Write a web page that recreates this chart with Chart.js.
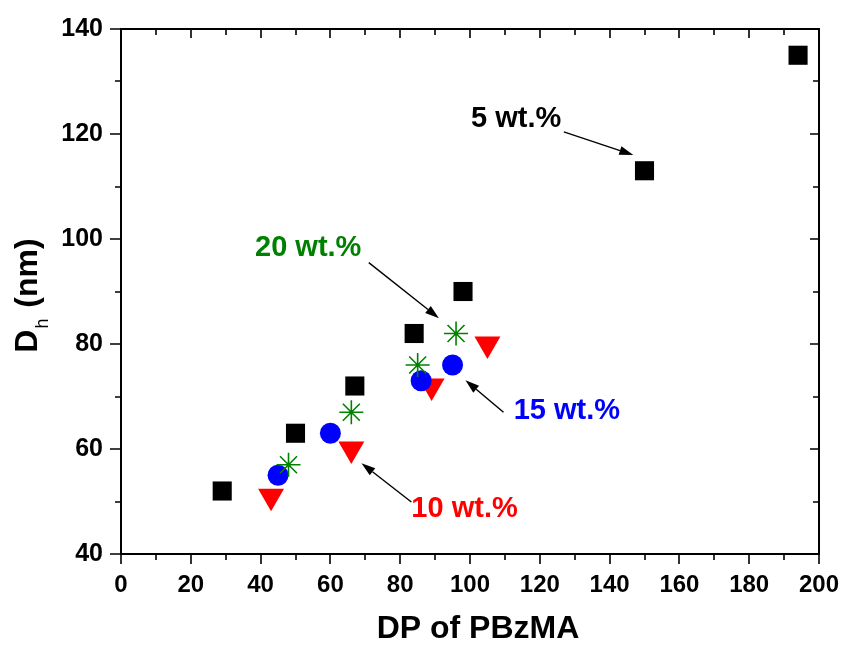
<!DOCTYPE html>
<html>
<head>
<meta charset="utf-8">
<title>Dh vs DP of PBzMA</title>
<script src="https://cdn.jsdelivr.net/npm/chart.js@4.4.1/dist/chart.umd.min.js"></script>
<style>
    html, body { margin: 0; padding: 0; background: #fff; }
    #wrap { width: 843px; height: 646px; }
</style>
</head>
<body>
<div id="wrap"><canvas id="chart" width="843" height="646"></canvas></div>
<script>
/* =====================================
   Data
===================================== */
const dp5  = [29, 50, 67, 84, 98, 150, 194];
const dh5  = [52, 63, 72, 82, 90, 113, 135];

const dp10 = [43, 66, 89, 105];
const dh10 = [51, 60, 72, 80];

const dp15 = [45, 60, 86, 95];
const dh15 = [55, 63, 73, 76];

const dp20 = [48, 66, 85, 96];
const dh20 = [57, 67, 76, 82];

const xLimits = [0, 200];
const yLimits = [40, 140];
const tickStep = 20;

// labels + arrows, in data units: [text, colour, textX, textY, tailX, tailY, tipX, tipY]
const notes = [
    ["5 wt.%",  "#000000", 100.3, 122.9, 126.9, 120.4, 146.8, 116.0],
    ["20 wt.%", "#008000",  38.4,  98.3,  71.0,  95.5,  91.1,  84.9],
    ["15 wt.%", "#0000ff", 112.5,  67.2, 109.6,  67.0,  98.7,  73.1],
    ["10 wt.%", "#ff0000",  83.2,  48.6,  83.2,  49.9,  68.9,  57.3]
];

const FONT = "'Liberation Sans', Arial, Helvetica, sans-serif";

function toPoints(xs, ys) {
    return xs.map((x, i) => ({ x: x, y: ys[i] }));
}

// keep the plot box where the figure has it
function noOverflow(scale) {
    scale.paddingTop = 0;
    scale.paddingBottom = 0;
    scale.paddingLeft = 0;
    scale.paddingRight = 0;
}


/* =====================================
   Frame, ticks, titles and notes
===================================== */
const framePlugin = {
    id: "frame",
    afterDraw(chart) {
        const ctx = chart.ctx;
        const a = chart.chartArea;
        const xs = chart.scales.x;
        const ys = chart.scales.y;

        ctx.save();
        ctx.strokeStyle = "#000";
        ctx.lineWidth = 2;
        ctx.strokeRect(a.left, a.top, a.right - a.left, a.bottom - a.top);

        ctx.lineWidth = 1.6;
        ctx.beginPath();

        // x ticks (major from scale, minor half way)
        let xt = xs.ticks.map(t => t.value);
        for (let i = 0; i < xt.length; i++) {
            let px = Math.round(xs.getPixelForValue(xt[i]));
            ctx.moveTo(px, a.bottom); ctx.lineTo(px, a.bottom + 10);
            ctx.moveTo(px, a.top);    ctx.lineTo(px, a.top + 9);
            if (i < xt.length - 1) {
                let mx = Math.round(xs.getPixelForValue((xt[i] + xt[i + 1]) / 2));
                ctx.moveTo(mx, a.bottom); ctx.lineTo(mx, a.bottom + 6);
                ctx.moveTo(mx, a.top);    ctx.lineTo(mx, a.top + 6);
            }
        }

        // y ticks
        let yt = ys.ticks.map(t => t.value);
        for (let i = 0; i < yt.length; i++) {
            let py = Math.round(ys.getPixelForValue(yt[i]));
            ctx.moveTo(a.left, py);  ctx.lineTo(a.left - 11, py);
            ctx.moveTo(a.right, py); ctx.lineTo(a.right - 9, py);
            if (i < yt.length - 1) {
                let my = Math.round(ys.getPixelForValue((yt[i] + yt[i + 1]) / 2));
                ctx.moveTo(a.left, my);  ctx.lineTo(a.left - 6, my);
                ctx.moveTo(a.right, my); ctx.lineTo(a.right - 6, my);
            }
        }
        ctx.stroke();

        // x title
        ctx.fillStyle = "#000";
        ctx.font = "bold 32px " + FONT;
        ctx.textAlign = "center";
        ctx.textBaseline = "alphabetic";
        ctx.fillText("DP of PBzMA", (a.left + a.right) / 2 + 8, 638);

        // y title: D with subscript h, then (nm)
        ctx.save();
        let cy = (a.top + a.bottom) / 2 + 4;
        ctx.translate(37, cy);
        ctx.rotate(-Math.PI / 2);
        ctx.textAlign = "left";
        ctx.font = "bold 32px " + FONT;
        let wD = ctx.measureText("D").width;
        let wRest = ctx.measureText(" (nm)").width;
        ctx.font = "18px " + FONT;
        let wh = ctx.measureText("h").width;
        let total = wD + wh + wRest + 3;
        let x0 = -total / 2;
        ctx.font = "bold 32px " + FONT;
        ctx.fillText("D", x0, 0);
        ctx.font = "18px " + FONT;
        ctx.fillText("h", x0 + wD + 1, 11);
        ctx.font = "bold 32px " + FONT;
        ctx.fillText(" (nm)", x0 + wD + wh + 3, 0);
        ctx.restore();

        // notes with arrows
        notes.forEach(n => {
            let tx = xs.getPixelForValue(n[2]);
            let ty = ys.getPixelForValue(n[3]);
            ctx.font = "bold 29px " + FONT;
            ctx.fillStyle = n[1];
            ctx.textAlign = "left";
            ctx.textBaseline = "middle";
            ctx.fillText(n[0], tx, ty);

            let x1 = xs.getPixelForValue(n[4]), y1 = ys.getPixelForValue(n[5]);
            let x2 = xs.getPixelForValue(n[6]), y2 = ys.getPixelForValue(n[7]);
            let ang = Math.atan2(y2 - y1, x2 - x1);
            let head = 14, half = 4.5;
            let bx = x2 - Math.cos(ang) * head, by = y2 - Math.sin(ang) * head;

            ctx.strokeStyle = "#000";
            ctx.fillStyle = "#000";
            ctx.lineWidth = 1.4;
            ctx.beginPath();
            ctx.moveTo(x1, y1);
            ctx.lineTo(bx, by);
            ctx.stroke();

            ctx.beginPath();
            ctx.moveTo(x2, y2);
            ctx.lineTo(bx + Math.sin(ang) * half, by - Math.cos(ang) * half);
            ctx.lineTo(bx - Math.sin(ang) * half, by + Math.cos(ang) * half);
            ctx.closePath();
            ctx.fill();
        });

        ctx.restore();
    }
};


/* =====================================
   Chart
===================================== */
new Chart(document.getElementById("chart"), {
    type: "scatter",
    data: {
        datasets: [
            {
                label: "5 wt.%",
                data: toPoints(dp5, dh5),
                pointStyle: "rect",
                radius: 13.5,
                backgroundColor: "#000000",
                borderWidth: 0,
                order: 4
            },
            {
                label: "10 wt.%",
                data: toPoints(dp10, dh10),
                pointStyle: "triangle",
                rotation: 180,
                radius: 15,
                backgroundColor: "#ff0000",
                borderWidth: 0,
                order: 3
            },
            {
                label: "15 wt.%",
                data: toPoints(dp15, dh15),
                pointStyle: "circle",
                radius: 10.5,
                backgroundColor: "#0000ff",
                borderWidth: 0,
                order: 2
            },
            {
                label: "20 wt.%",
                data: toPoints(dp20, dh20),
                pointStyle: "star",
                radius: 12,
                borderColor: "#008000",
                backgroundColor: "#008000",
                borderWidth: 1.6,
                order: 1
            }
        ]
    },
    options: {
        responsive: false,
        animation: false,
        layout: { padding: { top: 29, right: 24, left: 0, bottom: 0 } },
        plugins: {
            legend: { display: false },
            tooltip: { enabled: false }
        },
        scales: {
            x: {
                type: "linear",
                min: xLimits[0],
                max: xLimits[1],
                grid: { display: false, drawTicks: false },
                border: { display: false },
                ticks: {
                    stepSize: tickStep,
                    color: "#000",
                    font: { family: FONT, size: 24, weight: "bold" },
                    padding: 17,
                    maxRotation: 0
                },
                afterFit: function (scale) {
                    scale.height = 92;
                    noOverflow(scale);
                }
            },
            y: {
                type: "linear",
                min: yLimits[0],
                max: yLimits[1],
                grid: { display: false, drawTicks: false },
                border: { display: false },
                ticks: {
                    stepSize: tickStep,
                    color: "#000",
                    font: { family: FONT, size: 25, weight: "bold" },
                    padding: 18
                },
                afterFit: function (scale) {
                    scale.width = 121;
                    noOverflow(scale);
                }
            }
        }
    },
    plugins: [framePlugin]
});
</script>
</body>
</html>
